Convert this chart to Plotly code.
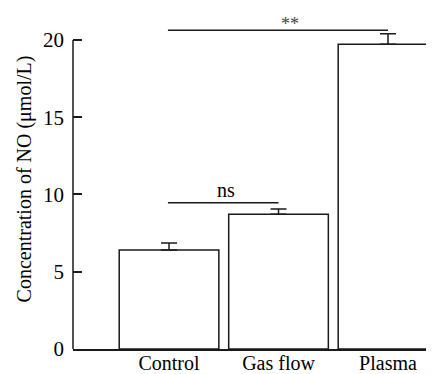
import plotly.graph_objects as go

categories = ["Control", "Gas flow", "Plasma"]
values = [6.4, 8.72, 19.72]
errors = [0.46, 0.34, 0.68]
y_ticks = [0, 5, 10, 15, 20]
ns_pair = [0, 1]
ns_level = 9.47
star_pair = [0, 2]
star_level = 20.63

FONT = "Liberation Serif"
LC = "#1a1a1a"

fig = go.Figure()
fig.add_trace(go.Bar(
    x=list(range(len(categories))), y=values, width=0.91,
    marker=dict(color="white", line=dict(color=LC, width=1.5)),
    error_y=dict(type="data", array=errors, symmetric=False,
                 arrayminus=[0] * len(errors), color=LC, thickness=1.5, width=8),
    showlegend=False,
))

shapes = [
    dict(type="line", xref="paper", yref="y", x0=0, x1=0, y0=0, y1=y_ticks[-1],
         line=dict(color=LC, width=1.5)),
    dict(type="line", xref="x", yref="y", x0=ns_pair[0] - 0.01, x1=ns_pair[1],
         y0=ns_level, y1=ns_level, line=dict(color=LC, width=1.5)),
    dict(type="line", xref="x", yref="y", x0=star_pair[0] - 0.01, x1=star_pair[1],
         y0=star_level, y1=star_level, line=dict(color=LC, width=1.5)),
]
annotations = [
    dict(x=(ns_pair[0] + ns_pair[1]) / 2 + 0.02, y=ns_level, xref="x", yref="y",
         text="ns", showarrow=False, yanchor="bottom", yshift=0,
         font=dict(family=FONT, size=20, color="black")),
    dict(x=1.105, y=star_level, xref="x", yref="y",
         text="**", showarrow=False, yanchor="bottom", yshift=-6,
         font=dict(family=FONT, size=18, color="#444")),
]

fig.update_layout(
    width=426, height=366,
    margin=dict(l=65, r=0, t=1, b=25),
    paper_bgcolor="white", plot_bgcolor="white",
    font=dict(family=FONT, size=21, color="black"),
    shapes=shapes, annotations=annotations,
    xaxis=dict(range=[-0.877, 2.42], tickvals=list(range(len(categories))),
               ticktext=categories, showline=True, linecolor=LC, linewidth=1.5,
               ticks="", showgrid=False, zeroline=False, fixedrange=True,
               automargin=False, ticklabelstandoff=-5,
               tickfont=dict(family=FONT, size=20, color="black")),
    yaxis=dict(range=[0, 22], tickvals=y_ticks, showline=False, ticks="inside",
               ticklen=9, tickwidth=1.5, tickcolor=LC, showgrid=False, zeroline=False,
               automargin=False, ticklabelstandoff=8,
               title=dict(text="Concentration of NO (μmol/L)",
                          font=dict(family=FONT, size=20, color="black"), standoff=6),
               tickfont=dict(family=FONT, size=21, color="black")),
)

fig.write_html("out.html")
